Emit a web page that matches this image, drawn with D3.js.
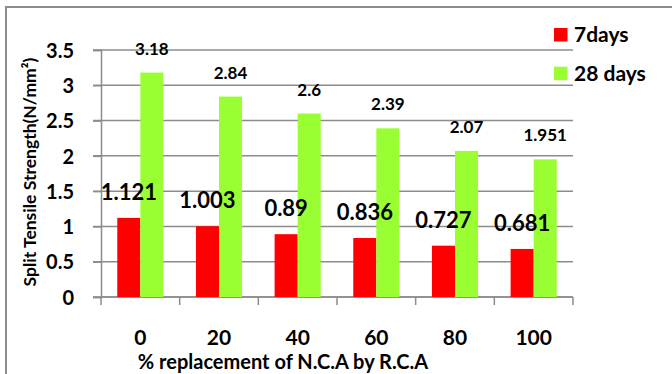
<!DOCTYPE html>
<html>
<head>
<meta charset="utf-8">
<script src="https://cdn.jsdelivr.net/npm/d3@7"></script>
<style>
  html, body { margin: 0; padding: 0; background: #fff; }
  svg { display: block; }
  text { font-family: "Lato", "Liberation Sans", sans-serif; font-weight: bold; fill: #000; }
</style>
</head>
<body>
<svg id="chart" width="672" height="374"></svg>
<script>
// Replacement levels (% of natural coarse aggregate replaced by recycled aggregate)
const categories = ["0", "20", "40", "60", "80", "100"];
const seriesNames = ["7days", "28 days"];
const values7 = [1.121, 1.003, 0.89, 0.836, 0.727, 0.681];
const values28 = [3.18, 2.84, 2.6, 2.39, 2.07, 1.951];
const labels7 = ["1.121", "1.003", "0.89", "0.836", "0.727", "0.681"];
const labels28 = ["3.18", "2.84", "2.6", "2.39", "2.07", "1.951"];
const yTicks = [0, 0.5, 1, 1.5, 2, 2.5, 3, 3.5];
const colors = ["#ff0000", "#99ff33"];

const svg = d3.select("#chart");
const plot = { left: 101, right: 573, top: 50, bottom: 297 };
const gridColor = "#8c8c8c";

// Outer frame (left and top edges)
svg.append("path")
  .attr("d", "M6,374 V7 H672")
  .attr("fill", "none")
  .attr("stroke", gridColor)
  .attr("stroke-width", 2);

const x0 = d3.scaleBand().domain(categories).range([plot.left, plot.right]).padding(0);
const inset = x0.bandwidth() * 0.207;
const x1 = d3.scaleBand().domain(seriesNames).range([inset, x0.bandwidth() - inset]).padding(0);
const y = d3.scaleLinear().domain([0, 3.5]).range([plot.bottom, plot.top]);

// Horizontal gridlines
svg.append("g")
  .selectAll("line")
  .data(yTicks)
  .join("line")
  .attr("x1", plot.left - 8)
  .attr("x2", plot.right)
  .attr("y1", d => y(d))
  .attr("y2", d => y(d))
  .attr("stroke", gridColor)
  .attr("stroke-width", 1.5);

// Y axis
const yAxis = svg.append("g")
  .attr("transform", `translate(${plot.left},0)`)
  .call(d3.axisLeft(y).tickValues(yTicks).tickFormat(d => String(d)).tickSize(8).tickPadding(19));
yAxis.select(".domain").attr("stroke", gridColor).attr("stroke-width", 1.5);
yAxis.selectAll(".tick line").attr("stroke", gridColor).attr("stroke-width", 1.5);
yAxis.selectAll(".tick text")
  .attr("font-family", "Lato, 'Liberation Sans', sans-serif")
  .attr("font-weight", "bold")
  .attr("font-size", 20)
  .attr("fill", "#000")
  .attr("dy", "0.36em");

// X axis: ticks at band boundaries
const xAxis = svg.append("g")
  .attr("transform", `translate(0,${plot.bottom})`);
xAxis.append("line")
  .attr("x1", plot.left).attr("x2", plot.right)
  .attr("stroke", gridColor).attr("stroke-width", 1.5);
const boundaries = categories.map(c => x0(c)).concat([plot.right]);
xAxis.selectAll("line.tick")
  .data(boundaries)
  .join("line")
  .attr("class", "tick")
  .attr("x1", d => d).attr("x2", d => d)
  .attr("y1", 0).attr("y2", 8)
  .attr("stroke", gridColor).attr("stroke-width", 1.5);
xAxis.selectAll("text")
  .data(categories)
  .join("text")
  .attr("x", d => x0(d) + x0.bandwidth() / 2)
  .attr("y", 48)
  .attr("text-anchor", "middle")
  .attr("font-size", 21)
  .text(d => d);

// Bars
const rows = categories.map((c, i) => ({ cat: c, vals: [values7[i], values28[i]], labels: [labels7[i], labels28[i]] }));
const groups = svg.append("g")
  .selectAll("g")
  .data(rows)
  .join("g")
  .attr("transform", d => `translate(${x0(d.cat)},0)`);

groups.selectAll("rect")
  .data(d => d.vals.map((v, k) => ({ key: seriesNames[k], v, k })))
  .join("rect")
  .attr("x", d => x1(d.key))
  .attr("width", x1.bandwidth())
  .attr("y", d => y(d.v))
  .attr("height", d => y(0) - y(d.v))
  .attr("fill", d => colors[d.k]);

// Value labels
groups.selectAll("text")
  .data(d => d.vals.map((v, k) => ({ key: seriesNames[k], v, k, label: d.labels[k] })))
  .join("text")
  .attr("x", d => x1(d.key) + x1.bandwidth() / 2)
  .attr("y", d => y(d.v) - 18)
  .attr("text-anchor", "middle")
  .attr("font-size", d => d.k === 0 ? 22 : 17)
  .text(d => d.label);

// Legend
const legend = svg.append("g");
seriesNames.forEach((name, k) => {
  legend.append("rect")
    .attr("x", 554).attr("y", 28 + k * 38.7)
    .attr("width", 13.5).attr("height", 13.5)
    .attr("fill", colors[k]);
  legend.append("text")
    .attr("x", 574).attr("y", 42 + k * 38.7)
    .attr("font-size", 21)
    .text(name);
});

// Axis titles
svg.append("text")
  .attr("transform", "translate(36,172) rotate(-90)")
  .attr("text-anchor", "middle")
  .attr("font-size", 17.5)
  .text("Split Tensile Strength(N/mm²)");

svg.append("text")
  .attr("x", 283).attr("y", 369)
  .attr("text-anchor", "middle")
  .attr("font-size", 20)
  .text("% replacement of N.C.A by R.C.A");
</script>
</body>
</html>
